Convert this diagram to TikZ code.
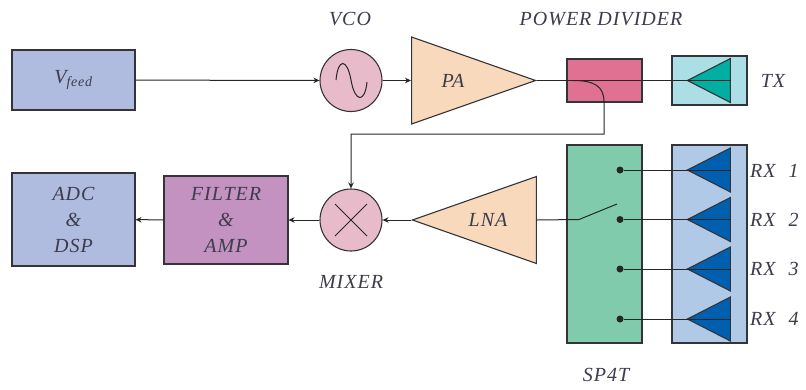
\documentclass[tikz,border=0pt]{standalone}
\usepackage{fontspec}
\setmainfont{Liberation Serif}
\usetikzlibrary{shapes.geometric,arrows.meta}
\definecolor{boxblue}{HTML}{AFBCE0}
\definecolor{circlepink}{HTML}{E8BBCB}
\definecolor{ampcream}{HTML}{F8D9BC}
\definecolor{dividerred}{HTML}{E07192}
\definecolor{txcyan}{HTML}{ABDFE5}
\definecolor{txteal}{HTML}{00AFA2}
\definecolor{filterpurple}{HTML}{C392C1}
\definecolor{switchgreen}{HTML}{80CBAC}
\definecolor{rxblue}{HTML}{AFC9E6}
\definecolor{rxdark}{HTML}{0060AF}
\definecolor{edgegray}{HTML}{333338}
\definecolor{labelgray}{HTML}{3C3C4C}
\begin{document}
\begin{tikzpicture}[
                x=1pt, y=-1pt,
                block/.style={rectangle, draw=edgegray, line width=1.1pt, inner sep=0pt, text=labelgray, align=center, font=\fontsize{20}{26}\selectfont\itshape\addfontfeature{LetterSpace=5}},
                round/.style={circle, draw=edgegray, fill=circlepink, line width=1.1pt, inner sep=0pt, minimum size=62pt},
                amp/.style={isosceles triangle, isosceles triangle stretches, draw=edgegray, fill=ampcream, line width=1.1pt, inner sep=0pt, minimum width=87pt, minimum height=124pt},
                ant/.style={isosceles triangle, isosceles triangle stretches, shape border rotate=180, draw=edgegray, line width=1.1pt, inner sep=0pt, minimum width=44pt, minimum height=43pt, anchor=apex},
                contact/.style={circle, fill=black!85, inner sep=0pt, minimum size=7pt},
                lbl/.style={text=labelgray, inner sep=0pt, font=\fontsize{20}{20}\selectfont\itshape\addfontfeature{LetterSpace=5}},
                sig/.style={line width=1pt, black!85},
                arr/.style={sig, -{Stealth[length=6pt,width=5.5pt]}}
            ]
            \useasboundingbox (0,0) rectangle (806,389);

            % Transmit path
            \node[block, fill=boxblue, minimum width=123pt, minimum height=60pt] (VFEED) at (73.5, 80) {V\textsubscript{feed}};
            \node[round] (VCO) at (351, 80.5) {};
            \node[amp, anchor=apex] (PA) at (537, 80.5) {};
            \node[block, fill=dividerred, minimum width=75pt, minimum height=43pt] (DIV) at (604.5, 80.5) {};
            \node[block, fill=txcyan, minimum width=75pt, minimum height=49pt] (TXBOX) at (709.5, 80.5) {};
            \node[ant, fill=txteal] (TXANT) at (686, 80.5) {};

            % Receive path
            \node[block, fill=boxblue, minimum width=123pt, minimum height=93pt] (ADC) at (73.5, 219.5) {ADC\\\&\\DSP};
            \node[block, fill=filterpurple, minimum width=124pt, minimum height=88pt] (FILT) at (226, 220) {FILTER\\\&\\AMP};
            \node[round] (MIX) at (351, 220) {};
            \node[amp, anchor=apex, shape border rotate=180] (LNA) at (411, 220) {};
            \node[block, fill=switchgreen, minimum width=75pt, minimum height=198pt] (SW) at (604.5, 244) {};
            \node[block, fill=rxblue, minimum width=75pt, minimum height=198pt] (RXBOX) at (709.5, 244) {};
            \node[ant, fill=rxdark] (RX1) at (686, 170) {};
            \node[ant, fill=rxdark] (RX2) at (686, 219.5) {};
            \node[ant, fill=rxdark] (RX3) at (686, 269) {};
            \node[ant, fill=rxdark] (RX4) at (686, 319) {};
            \node[contact] (C1) at (620, 170) {};
            \node[contact] (C2) at (620, 219.5) {};
            \node[contact] (C3) at (620, 269) {};
            \node[contact] (C4) at (620, 319) {};

            % Labels
            \node[lbl] (VCOL) at (350, 19) {VCO};
            \node[lbl] (DIVL) at (601, 19) {POWER DIVIDER};
            \node[lbl] (PAL) at (453, 81) {PA};
            \node[lbl] (TXL) at (773, 81) {TX};
            \node[lbl] (LNAL) at (488, 220) {LNA};
            \node[lbl] (MIXL) at (351, 282) {MIXER};
            \node[lbl] (SWL) at (606, 375) {SP4T};
            \node[lbl, anchor=west] (RX1L) at (750, 171) {RX\hspace{13pt}1};
            \node[lbl, anchor=west] (RX2L) at (750, 220) {RX\hspace{13pt}2};
            \node[lbl, anchor=west] (RX3L) at (750, 269) {RX\hspace{13pt}3};
            \node[lbl, anchor=west] (RX4L) at (750, 319) {RX\hspace{13pt}4};

            % Connectors
            \coordinate (TAP) at (573, 80.5);
            \coordinate (SWPIVOT) at (579, 219.5);
            \coordinate (SWTIP) at (617, 204);
            \draw[arr] (VFEED) -- (VCO);
            \draw[arr] (VCO) -- (PA.lower side);
            \draw[sig] (PA.apex) -- (TXANT.lower side);
            \draw[arr] (TAP) .. controls (594, 80.5) and (604, 86) .. (604, 102) -- (604, 134) -- (351, 134) -- (MIX);
            \draw[arr] (MIX) -- (FILT);
            \draw[arr] (FILT) -- (ADC);
            \draw[arr] (LNA.apex) -- (MIX);
            \draw[sig] (LNA.lower side) -- (SWPIVOT) -- (SWTIP);
            \draw[sig] (C1) -- (RX1.lower side);
            \draw[sig] (C2) -- (RX2.lower side);
            \draw[sig] (C3) -- (RX3.lower side);
            \draw[sig] (C4) -- (RX4.lower side);

            % Symbols
            \draw[sig] (336, 80) .. controls (338, 58) and (347, 58) .. (351, 80) .. controls (355, 103) and (365, 103) .. (367, 82);
            \draw[sig] (335, 204) -- (367, 236);
            \draw[sig] (367, 204) -- (335, 236);
            \end{tikzpicture}
\end{document}
